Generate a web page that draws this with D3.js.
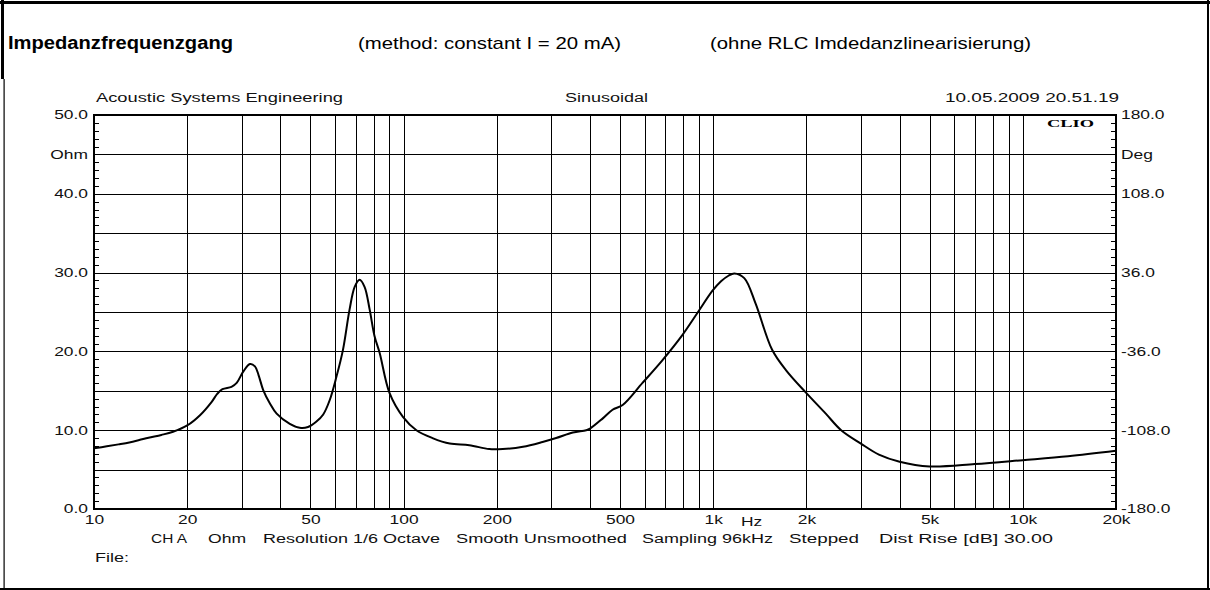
<!DOCTYPE html>
<html lang="de">
    <head>
        <meta charset="utf-8">
        <title>Impedanzfrequenzgang</title>
        <script src="https://cdn.jsdelivr.net/npm/d3@7/dist/d3.min.js" charset="utf-8"></script>
        <style type="text/css">
            body { margin: 0; background: #fff; }
            svg { display: block; font-family: "Liberation Sans", Arial, sans-serif; }
            .grid line { stroke: #000; stroke-width: 1; shape-rendering: crispEdges; }
            .axis path, .axis line { stroke: #000; shape-rendering: crispEdges; }
            .lbl { font-size: 12px; fill: #111; }
        </style>
    </head>
    <body>
        <div id="chart"></div>
        <script>
            // Messwerte (Frequenz in Hz, Impedanz in Ohm)
            var freq = [10, 11, 12, 13, 14, 15, 16.5, 18, 20, 22, 24, 25, 26, 27.8, 28.9, 30.3, 31.9, 33.1, 34, 35.2,
                        37, 38.9, 42.9, 46.2, 49.1, 52.3, 55, 57.7, 60.7, 63.7, 66.9, 69.5, 72.1, 74.8, 77.7, 80.5,
                        83.7, 90.1, 99.5, 110, 124, 141, 163, 189, 209, 243, 281, 311, 352, 389, 400, 440, 473, 510,
                        591, 686, 796, 890, 995, 1060, 1120, 1170, 1260, 1370, 1550, 1720, 1990, 2310, 2590, 3000, 3430,
                        4000, 5000, 7000, 10000, 14000, 20000];
            var ohm = [7.7, 7.95, 8.2, 8.45, 8.75, 9.05, 9.4, 9.8, 10.6, 11.9, 13.6, 14.6, 15.2, 15.5, 16.0, 17.4, 18.4, 18.1, 17.0, 15.1,
                       13.4, 12.1, 10.8, 10.3, 10.4, 11.1, 12.0, 13.8, 16.8, 20.2, 25.3, 28.2, 29.1, 28.2, 25.3, 22.0,
                       19.8, 14.7, 11.7, 10.0, 9.0, 8.3, 8.1, 7.6, 7.6, 7.9, 8.5, 9.0, 9.7, 10.0, 10.2, 11.5, 12.6, 13.2,
                       16.0, 18.9, 22.1, 24.9, 27.7, 28.9, 29.6, 29.9, 29.3, 26.1, 20.2, 17.6, 14.8, 12.1, 10.0, 8.3, 6.9,
                       6.0, 5.4, 5.7, 6.2, 6.7, 7.4];

            // Achsen-Beschriftungen
            var xLabelVals = [10, 20, 50, 100, 200, 500, 1000, 2000, 5000, 10000, 20000];
            var xLabelTxt = ["10", "20", "50", "100", "200", "500", "1k", "2k", "5k", "10k", "20k"];
            var ohmTicks = [50, 45, 40, 30, 20, 10, 0];
            var degTicks = [180, 144, 108, 36, -36, -108, -180];
            var footer = ["CH A", "Ohm", "Resolution 1/6 Octave", "Smooth Unsmoothed", "Sampling 96kHz", "Stepped", "Dist Rise [dB] 30.00"];

            var W = 1210, H = 590;
            var margin = { top: 115, right: 94, bottom: 81, left: 94 };
            var width = W - margin.left - margin.right,
                height = H - margin.top - margin.bottom;

            var root = d3.select("#chart").append("svg")
                .attr("width", W)
                .attr("height", H);

            // Rahmen
            root.append("rect").attr("x", 0).attr("y", 1).attr("width", W).attr("height", 3).attr("fill", "#000");
            root.append("rect").attr("x", 1).attr("y", 0).attr("width", 3).attr("height", 79).attr("fill", "#000");
            root.append("rect").attr("x", 3.5).attr("y", 79).attr("width", 1.2).attr("height", H - 79).attr("fill", "#000");
            root.append("rect").attr("x", W - 3).attr("y", 0).attr("width", 2).attr("height", H).attr("fill", "#000");
            root.append("rect").attr("x", 0).attr("y", H - 2).attr("width", W).attr("height", 2).attr("fill", "#000");

            // Kopfzeile
            function txt(parent, x, y, s, size, len, weight) {
                return parent.append("text")
                    .attr("x", x).attr("y", y)
                    .attr("textLength", len)
                    .attr("lengthAdjust", "spacingAndGlyphs")
                    .style("font-size", size + "px")
                    .style("font-weight", weight || "normal")
                    .text(s);
            }
            txt(root, 8, 49, "Impedanzfrequenzgang", 18, 225, "bold");
            txt(root, 358, 49, "(method: constant I = 20 mA)", 17, 263);
            txt(root, 710, 49, "(ohne RLC Imdedanzlinearisierung)", 17, 321);

            txt(root, 96, 102, "Acoustic Systems Engineering", 12, 247).attr("class", "lbl");
            txt(root, 565, 102, "Sinusoidal", 12, 83).attr("class", "lbl");
            txt(root, 945, 102, "10.05.2009 20.51.19", 12, 174).attr("class", "lbl");

            var svg = root.append("g")
                .attr("transform", "translate(" + margin.left + "," + margin.top + ")");

            // Skalen
            var x = d3.scaleLog().domain([10, 20000]).range([0, width]);
            var y = d3.scaleLinear().domain([0, 50]).range([height, 0]);
            var yDeg = d3.scaleLinear().domain([-180, 180]).range([height, 0]);

            // Gitter
            var vGrid = [];
            [10, 100, 1000, 10000].forEach(function(dec) {
                for (var k = 1; k <= 9; k++) {
                    var v = dec * k;
                    if (v > 10 && v < 20000) vGrid.push(v);
                }
            });
            svg.append("g").attr("class", "grid")
                .call(d3.axisBottom(x).tickValues(vGrid).tickSize(height).tickFormat(""))
                .call(function(g) { g.select(".domain").remove(); });
            svg.append("g").attr("class", "grid")
                .call(d3.axisLeft(y).tickValues(d3.range(5, 50, 5)).tickSize(-width).tickFormat(""))
                .call(function(g) { g.select(".domain").remove(); });

            // kleine Striche innen
            var minor = d3.range(1, 50).filter(function(v) { return v % 5 !== 0; });
            svg.append("g").attr("class", "axis")
                .call(d3.axisLeft(y).tickValues(minor).tickSize(-5).tickFormat(""))
                .call(function(g) { g.select(".domain").remove(); });
            svg.append("g").attr("class", "axis")
                .attr("transform", "translate(" + width + ",0)")
                .call(d3.axisRight(y).tickValues(minor).tickSize(-5).tickFormat(""))
                .call(function(g) { g.select(".domain").remove(); });

            // Kurve
            var line = d3.line()
                .x(function(d) { return x(d[0]); })
                .y(function(d) { return y(d[1]); })
                .curve(d3.curveCatmullRom.alpha(0.5));
            svg.append("path")
                .datum(d3.zip(freq, ohm))
                .attr("fill", "none")
                .attr("stroke", "#000")
                .attr("stroke-width", 2)
                .attr("stroke-linejoin", "round")
                .attr("d", line);

            // Plotrahmen
            svg.append("rect")
                .attr("width", width).attr("height", height)
                .attr("fill", "none").attr("stroke", "#000").attr("stroke-width", 2);

            // Achsen-Beschriftung links
            var yAxis = svg.append("g").attr("class", "axis")
                .call(d3.axisLeft(y).tickValues(ohmTicks).tickSize(0).tickPadding(6)
                    .tickFormat(function(d) { return d === 45 ? "Ohm" : d.toFixed(1); }));
            yAxis.select(".domain").remove();
            yAxis.selectAll("text").attr("class", "lbl").attr("x", 0)
                .attr("transform", "translate(-6,0) scale(1.45,1)");

            // rechts (Grad)
            var dAxis = svg.append("g").attr("class", "axis")
                .attr("transform", "translate(" + width + ",0)")
                .call(d3.axisRight(yDeg).tickValues(degTicks).tickSize(0)
                    .tickFormat(function(d) { return d === 144 ? "Deg" : d.toFixed(1); }));
            dAxis.select(".domain").remove();
            dAxis.selectAll("text").attr("class", "lbl").attr("x", 0)
                .attr("transform", "translate(5,0) scale(1.45,1)");

            // unten (Frequenz)
            var xAxis = svg.append("g").attr("class", "axis")
                .attr("transform", "translate(0," + height + ")")
                .call(d3.axisBottom(x).tickValues(xLabelVals).tickSize(0).tickPadding(6)
                    .tickFormat(function(d, i) { return xLabelTxt[i]; }));
            xAxis.select(".domain").remove();
            xAxis.selectAll("text").attr("class", "lbl").attr("transform", "scale(1.45,1)");
            svg.append("text").attr("class", "lbl")
                .attr("x", x(1330)).attr("y", height + 17)
                .attr("text-anchor", "middle")
                .attr("transform", "translate(" + (-0.45 * x(1330)) + ",0) scale(1.45,1)")
                .text("Hz");

            // CLIO
            root.append("text")
                .attr("x", 1047).attr("y", 127)
                .attr("textLength", 47).attr("lengthAdjust", "spacingAndGlyphs")
                .style("font-family", "'Liberation Serif', 'DejaVu Serif', serif")
                .style("font-weight", "bold")
                .style("font-size", "11px")
                .text("CLIO");

            // Fusszeile
            var fx = [151, 208, 263, 456, 642, 789, 879];
            var fw = [36, 38, 177, 171, 131, 70, 174];
            footer.forEach(function(s, i) {
                txt(root, fx[i], 543, s, 12, fw[i]).attr("class", "lbl");
            });
            txt(root, 95, 562, "File:", 12, 34).attr("class", "lbl");
        </script>
    </body>
</html>
